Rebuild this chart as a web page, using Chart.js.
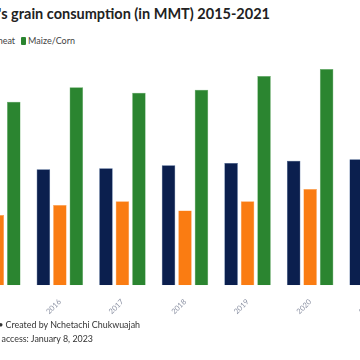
<!DOCTYPE html>
<html>
<head>
<meta charset="utf-8">
<script src="https://cdn.jsdelivr.net/npm/chart.js@4"></script>
<style>
  body { margin: 0; width: 360px; height: 360px; overflow: hidden; position: relative; background: #fff; font-family: Lato, "Noto Sans", sans-serif; }
  .rt { position: absolute; white-space: nowrap; text-align: right; }
  #title { right: 90px; top: 5px; font-size: 14.5px; font-weight: bold; color: #222; }
  #legend { right: 285px; top: 35px; font-size: 9px; color: #444; }
  #legend span.box { display: inline-block; width: 5px; height: 8px; border-radius: 1px; margin: 0 2px 0 6px; vertical-align: -1px; }
  #src { right: 220px; top: 319px; font-size: 8.9px; color: #333; }
  #date { right: 267px; top: 333px; font-size: 8.9px; color: #333; }
  #wrap { position: absolute; left: -34px; top: 56px; width: 438px; height: 264px; }
</style>
</head>
<body>
<div id="title" class="rt">China's grain consumption (in MMT) 2015-2021</div>
<div id="legend" class="rt"></div>
<div id="wrap"><canvas id="grain"></canvas></div>
<div id="src" class="rt">Source: USDA • Created by Nchetachi Chukwuajah</div>
<div id="date" class="rt">Date of access: January 8, 2023</div>
<script>
var years = ['2015', '2016', '2017', '2018', '2019', '2020', '2021'];
var rice = [149, 152, 153, 157, 160, 163, 165];
var wheat = [92, 105, 110, 98, 110, 126, 120];
var maize = [240, 259, 252, 256, 274, 283, 290];

var ctx = document.getElementById('grain');
var myChart = new Chart(ctx, {
  type: 'bar',
  data: {
    labels: years,
    datasets: [{
      label: 'Rice',
      data: rice,
      backgroundColor: '#0b1f4e',
      borderColor: '#2a4f86',
      borderWidth: 0.5
    }, {
      label: 'Wheat',
      data: wheat,
      backgroundColor: '#fa7c12',
      borderColor: '#fca050',
      borderWidth: 0.5
    }, {
      label: 'Maize/Corn',
      data: maize,
      backgroundColor: '#2b8530',
      borderColor: '#5aa85c',
      borderWidth: 0.5
    }]
  },
  options: {
    responsive: true,
    maintainAspectRatio: false,
    animation: false,
    categoryPercentage: 0.79,
    barPercentage: 0.82,
    layout: { padding: 0 },
    plugins: { legend: { display: false }, tooltip: { enabled: false } },
    scales: {
      x: {
        grid: { display: false },
        border: { display: false },
        ticks: { minRotation: 45, maxRotation: 45, color: '#8a90a2', font: { size: 7.5, family: 'Lato' }, padding: 4 }
      },
      y: { display: false, min: 0, max: 300 }
    }
  }
});

// html legend from the datasets
var lg = document.getElementById('legend');
myChart.data.datasets.forEach(function (d) {
  lg.innerHTML += '<span class="box" style="background:' + d.backgroundColor + '"></span>' + d.label;
});
</script>
</body>
</html>
